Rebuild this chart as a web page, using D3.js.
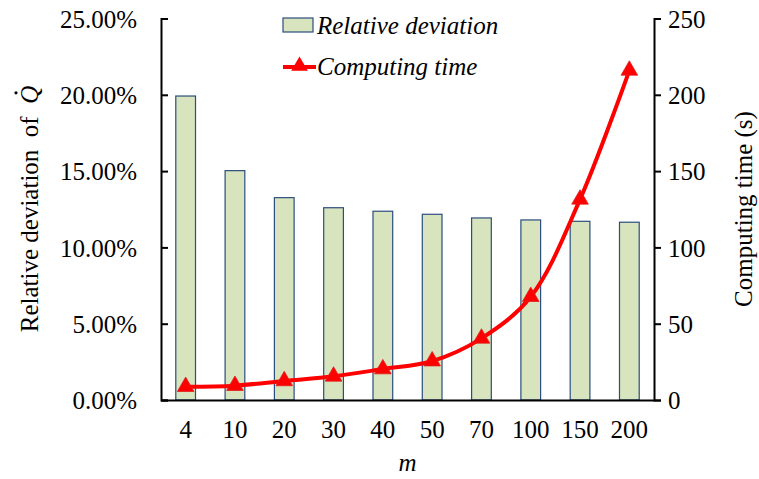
<!DOCTYPE html>
<html>
<head>
<meta charset="utf-8">
<script src="https://cdn.jsdelivr.net/npm/d3@7"></script>
<style>
body { margin: 0; background: #fff; }
</style>
</head>
<body>
<svg id="chart" width="759" height="479"></svg>
<script>
const categories = ["4", "10", "20", "30", "40", "50", "70", "100", "150", "200"];
const deviation = [0.1992, 0.1503, 0.1326, 0.1260, 0.1237, 0.1217, 0.1193, 0.1180, 0.1171, 0.1165];
const computingTime = [8.7, 9.4, 12.5, 15.5, 20.3, 25.5, 40.4, 67.7, 131.5, 216];
const leftTicks = [0, 0.05, 0.10, 0.15, 0.20, 0.25];
const rightTicks = [0, 50, 100, 150, 200, 250];

var FONT = "Liberation Serif";
var FS = 25;

var svg = d3.select("#chart");
var margin = { top: 18.5, left: 161, right: 105, bottom: 79 };
var width = 759 - margin.left - margin.right;
var height = 479 - margin.top - margin.bottom;
var g = svg.append("g")
    .attr("transform", "translate(" + margin.left + "," + margin.top + ")");

var x = d3.scaleBand().domain(categories).range([0, width]).padding(0);
var yLeft = d3.scaleLinear().domain([0, 0.25]).range([height, 0]);
var yRight = d3.scaleLinear().domain([0, 250]).range([height, 0]);

// bars
var barW = x.bandwidth() * 0.4;
g.selectAll(".bar")
    .data(deviation)
    .enter().append("rect")
    .attr("class", "bar")
    .attr("x", (d, i) => x(categories[i]) + (x.bandwidth() - barW) / 2)
    .attr("y", d => yLeft(d))
    .attr("width", barW)
    .attr("height", d => height - yLeft(d))
    .attr("fill", "#d7e4bd")
    .attr("stroke", "#2c4d7e")
    .attr("stroke-width", 1.2);

function styleAxis(a) {
    a.attr("font-family", FONT).attr("font-size", FS);
    a.selectAll("path, line").attr("stroke", "#000").attr("stroke-width", 2);
    a.selectAll("text").attr("fill", "#000");
}

// left axis, ticks inside
g.append("g")
    .call(d3.axisRight(yLeft).tickValues(leftTicks).tickSize(7).tickSizeOuter(7)
        .tickFormat(d3.format(".2%")))
    .call(styleAxis)
    .call(a => a.selectAll("text").attr("x", -24).attr("text-anchor", "end").attr("dy", "0.35em"));

// right axis, ticks outside
g.append("g")
    .attr("transform", "translate(" + width + ",0)")
    .call(d3.axisRight(yRight).tickValues(rightTicks).tickSize(7).tickSizeOuter(7))
    .call(styleAxis)
    .call(a => a.selectAll("text").attr("x", 14).attr("dy", "0.35em"));

// bottom axis
g.append("g")
    .attr("transform", "translate(0," + height + ")")
    .call(d3.axisBottom(x).tickSize(0).tickSizeOuter(0))
    .call(styleAxis)
    .call(a => a.selectAll("text").attr("dy", "1.4em"));

// line
var line = d3.line()
    .x((d, i) => x(categories[i]) + x.bandwidth() / 2)
    .y(d => yRight(d))
    .curve(d3.curveCatmullRom.alpha(0.5));

g.append("path")
    .datum(computingTime)
    .attr("fill", "none")
    .attr("stroke", "#ff0000")
    .attr("stroke-width", 4)
    .attr("d", line);

var tri = d3.symbol().type(d3.symbolTriangle).size(120);
g.selectAll(".marker")
    .data(computingTime)
    .enter().append("path")
    .attr("d", tri)
    .attr("transform", (d, i) => "translate(" + (x(categories[i]) + x.bandwidth() / 2) + "," + yRight(d) + ")")
    .attr("fill", "#ff0000")
    .attr("stroke", "#e02020")
    .attr("stroke-width", 0.8);

// axis titles
var ytG = svg.append("g").attr("transform", "translate(38,209) rotate(-90)");
var yt = ytG.append("text")
    .attr("text-anchor", "middle")
    .attr("font-family", FONT).attr("font-size", FS);
yt.append("tspan").text("Relative deviation\u00a0\u00a0of\u00a0\u00a0");
var qSpan = yt.append("tspan").attr("font-style", "italic").text("Q");
var totalLen = yt.node().getComputedTextLength();
var qLen = qSpan.node().getComputedTextLength();
ytG.append("circle")
    .attr("cx", totalLen / 2 - qLen / 2 + 2)
    .attr("cy", -22)
    .attr("r", 1.6)
    .attr("fill", "#000");

svg.append("text")
    .attr("transform", "translate(752,209) rotate(-90)")
    .attr("text-anchor", "middle")
    .attr("font-family", FONT).attr("font-size", FS)
    .text("Computing time (s)");

svg.append("text")
    .attr("x", margin.left + width / 2)
    .attr("y", 471)
    .attr("text-anchor", "middle")
    .attr("font-family", FONT).attr("font-size", FS)
    .attr("font-style", "italic")
    .text("m");

// legend
var leg = svg.append("g").attr("transform", "translate(283,0)");
leg.append("rect")
    .attr("x", 0).attr("y", 18).attr("width", 30).attr("height", 14)
    .attr("fill", "#d7e4bd").attr("stroke", "#2c4d7e").attr("stroke-width", 1.2);
leg.append("text")
    .attr("x", 34).attr("y", 34)
    .attr("font-family", FONT).attr("font-size", FS).attr("font-style", "italic")
    .text("Relative deviation");
leg.append("line")
    .attr("x1", 0).attr("x2", 33).attr("y1", 67).attr("y2", 67)
    .attr("stroke", "#ff0000").attr("stroke-width", 4);
leg.append("path")
    .attr("d", tri)
    .attr("transform", "translate(16.5,66)")
    .attr("fill", "#ff0000");
leg.append("text")
    .attr("x", 34).attr("y", 75)
    .attr("font-family", FONT).attr("font-size", FS).attr("font-style", "italic")
    .text("Computing time");
</script>
</body>
</html>
